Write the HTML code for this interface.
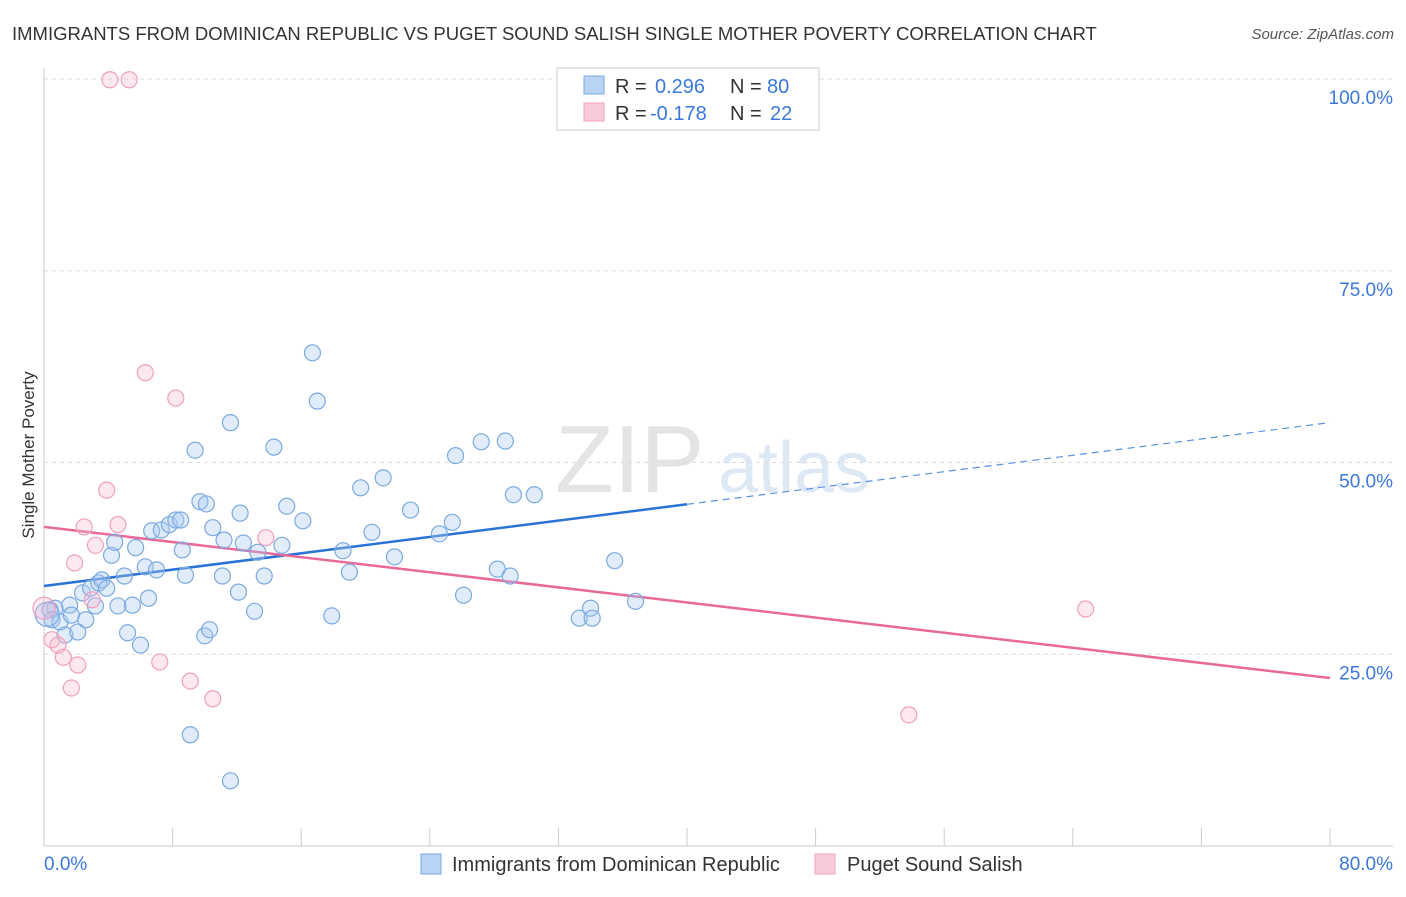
<!DOCTYPE html>
<html><head><meta charset="utf-8"><style>
body{margin:0;background:#fff;font-family:"Liberation Sans",sans-serif}
svg text{font-family:"Liberation Sans",sans-serif}
</style></head><body>
<svg id="chart" width="1406" height="892" xmlns="http://www.w3.org/2000/svg">
<text x="12" y="40" font-size="18.5" fill="#333">IMMIGRANTS FROM DOMINICAN REPUBLIC VS PUGET SOUND SALISH SINGLE MOTHER POVERTY CORRELATION CHART</text>
<text x="1394" y="39" font-size="15" fill="#555" font-style="italic" text-anchor="end">Source: ZipAtlas.com</text>
<text x="34" y="455" font-size="17" fill="#333" text-anchor="middle" transform="rotate(-90 34 455)">Single Mother Poverty</text>
<text x="555" y="492" font-size="96" fill="#e4e4e4" font-family="Liberation Serif">ZIP</text>
<text x="718" y="492" font-size="72" fill="#dde8f5">atlas</text>
<g id="grid"></g><g id="ticks"></g><g id="lines"></g><g id="pts"></g>
<g>
<rect x="557" y="68" width="262" height="62" fill="#fff" stroke="#ccc"/>
<rect x="584" y="76" width="20" height="18" fill="#b8d3f3" stroke="#7aaae0"/>
<text x="615" y="93" font-size="20" fill="#333">R = </text><text x="655" y="93" font-size="20" fill="#3b78d8">0.296</text>
<text x="730" y="93" font-size="20" fill="#333">N = </text><text x="767" y="93" font-size="20" fill="#3b78d8">80</text>
<rect x="584" y="103" width="20" height="18" fill="#f9cad9" stroke="#f0a0bc"/>
<text x="615" y="120" font-size="20" fill="#333">R = </text><text x="650" y="120" font-size="20" fill="#3b78d8">-0.178</text>
<text x="730" y="120" font-size="20" fill="#333">N = </text><text x="770" y="120" font-size="20" fill="#3b78d8">22</text>
</g>
<g>
<rect x="421" y="854" width="20" height="20" fill="#b8d3f3" stroke="#7aaae0"/>
<text x="452" y="871" font-size="20" fill="#333">Immigrants from Dominican Republic</text>
<rect x="815" y="854" width="20" height="20" fill="#f9cad9" stroke="#f0a0bc"/>
<text x="847" y="871" font-size="20" fill="#333">Puget Sound Salish</text>
</g>
</svg>
<script>
const blueX=[0.37,0.68,0.5,1.0,1.3,1.6,1.7,2.1,2.4,2.6,2.9,3.2,3.4,3.6,3.9,4.2,4.4,4.6,5.0,5.2,5.5,5.7,6.0,6.3,6.5,6.7,7.0,7.3,7.8,8.2,8.5,8.6,8.8,9.1,9.4,9.7,10.0,10.1,10.3,10.5,11.1,11.2,11.6,12.1,12.2,12.4,11.6,13.1,13.3,13.7,14.3,14.8,15.1,16.1,16.7,17.0,17.9,18.6,19.0,19.7,20.4,21.1,21.8,22.8,24.6,25.4,25.6,26.1,27.2,28.2,28.7,29.0,29.2,30.5,33.3,34.0,34.1,35.5,36.8,0.2];
const blueY=[30.8,31.0,29.5,29.2,27.5,31.4,30.1,27.9,33.0,29.5,33.6,31.3,34.3,34.7,33.6,37.9,39.6,31.3,35.2,27.8,31.4,38.9,26.2,36.4,32.3,41.1,36.0,41.2,41.9,42.5,42.5,38.6,35.3,14.5,51.6,44.9,27.4,44.6,28.2,41.5,35.2,39.9,55.2,33.1,43.4,39.5,8.5,30.6,38.3,35.2,52.0,39.2,44.3,42.4,64.3,58.0,30.0,38.5,35.7,46.7,40.9,48.0,37.7,43.8,40.7,42.2,50.9,32.7,52.7,36.1,52.8,35.2,45.8,45.8,29.7,31.0,29.7,37.2,31.9,30.2];
const pinkX=[0,0.5,0.87,1.2,1.7,1.9,2.1,2.5,3.0,3.2,4.1,4.6,5.3,6.3,7.2,8.2,9.1,3.9,10.5,13.8,53.8,64.8];
const pinkY=[31.0,26.9,26.2,24.6,20.6,36.9,23.6,41.6,32.1,39.2,99.9,41.9,99.9,61.7,24.0,58.4,21.5,46.4,19.2,40.2,17.1,30.9];
const blueTrend=[33.9,55.2];
const pinkTrend=[41.6,21.9];
const yTicks=[25,50,75,100];
const xTicks=[0,8,16,24,32,40,48,56,64,72,80];
const NS='http://www.w3.org/2000/svg';
const sx=v=>44+v/80*1286, sy=v=>846-v/100*767;
function mk(t,a,p){const e=document.createElementNS(NS,t);for(const k in a)e.setAttribute(k,a[k]);p.appendChild(e);return e;}
const grid=document.getElementById('grid'),ticks=document.getElementById('ticks'),lines=document.getElementById('lines'),pts=document.getElementById('pts');
yTicks.forEach(v=>{const l=mk('line',{x1:44,x2:1393,y1:sy(v),y2:sy(v),stroke:'#ddd','stroke-dasharray':'4 4'},grid);


const t=mk('text',{x:1393,y:sy(v)+25,'font-size':19,fill:'#3b78d8','text-anchor':'end'},grid);t.textContent=v.toFixed(1)+'%';

});
mk('line',{x1:44,x2:44,y1:68,y2:846,stroke:'#ccc'},ticks);
const ax=mk('line',{x1:44,x2:1393,y1:846,y2:846,stroke:'#ccc'},ticks);


xTicks.forEach(v=>{const l=mk('line',{x1:sx(v),x2:sx(v),y1:828,y2:846,stroke:'#ccc'},ticks);

});
[[0,'start'],[80,'end']].forEach(([v,a])=>{const t=mk('text',{x:v?1393:44,y:870,'font-size':19,fill:'#3b78d8','text-anchor':a},ticks);t.textContent=v.toFixed(1)+'%';

});
const yb=x=>blueTrend[0]+(blueTrend[1]-blueTrend[0])*x/80, yp=x=>pinkTrend[0]+(pinkTrend[1]-pinkTrend[0])*x/80;
let e=mk('line',{x1:sx(0),y1:sy(yb(0)),x2:sx(40),y2:sy(yb(40)),stroke:'#2a72d6','stroke-width':2.5},lines);


e=mk('line',{x1:sx(40),y1:sy(yb(40)),x2:sx(80),y2:sy(yb(80)),stroke:'#5a92e0','stroke-width':1.2,'stroke-dasharray':'7 5'},lines);


e=mk('line',{x1:sx(0),y1:sy(yp(0)),x2:sx(80),y2:sy(yp(80)),stroke:'#e8699a','stroke-width':2.5},lines);


blueX.forEach((x,i)=>{const c=mk('circle',{cx:sx(x),cy:sy(blueY[i]),r:i==79?12:8,fill:'rgba(170,200,240,0.35)',stroke:'#7aaae0','stroke-width':1.2},pts);

});
pinkX.forEach((x,i)=>{const c=mk('circle',{cx:sx(x),cy:sy(pinkY[i]),r:i==0?11:8,fill:'rgba(248,185,208,0.32)',stroke:'#f0a0bc','stroke-width':1.2},pts);

});
</script>
</body></html>
